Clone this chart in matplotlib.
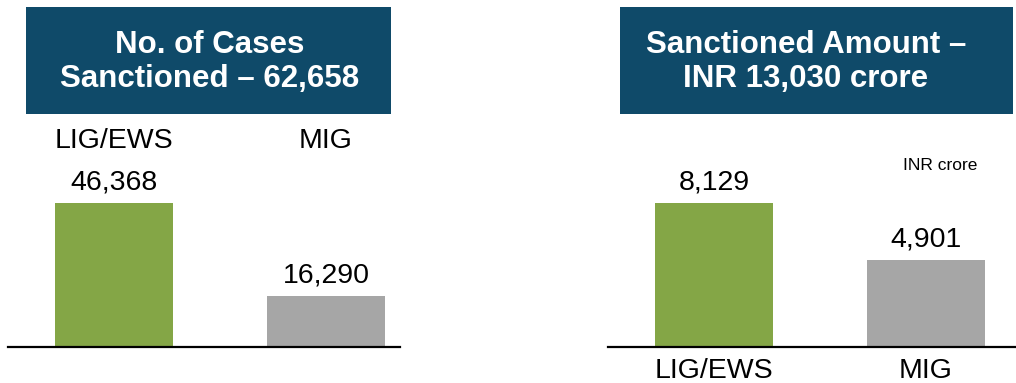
import matplotlib.pyplot as plt
import matplotlib.transforms as mtransforms
from matplotlib.patches import Rectangle

plt.rcParams["font.family"] = ["Liberation Sans", "DejaVu Sans"]

# data
categories = ["LIG/EWS", "MIG"]
cases = [46368, 16290]
amount = [8129, 4901]
cases_title = "No. of Cases\nSanctioned \u2013 62,658"
amount_title = "Sanctioned Amount \u2013\nINR 13,030 crore"
unit_label = "INR crore"

BAR_COLORS = ["#84A646", "#A6A6A6"]
HEADER_COLOR = "#0F4A69"

W, H = 1016, 383
fig = plt.figure(figsize=(W / 100, H / 100), dpi=100)


def px_box(x0, y0, x1, y1):
    # pixel box (top-left origin) -> figure fraction [left, bottom, width, height]
    return [x0 / W, (H - y1) / H, (x1 - x0) / W, (y1 - y0) / H]


def header(x0, x1, text, text_x):
    l, b, w, h = px_box(x0, 7, x1, 114)
    fig.patches.append(Rectangle((l, b), w, h, transform=fig.transFigure,
                                 facecolor=HEADER_COLOR, edgecolor="none"))
    fig.text(text_x / W, 1 - 62 / H, text, ha="center", va="center",
             color="white", fontsize=22.5, fontweight="bold", linespacing=1.2)


def bar_panel(x0, x1, values, labels_on_top):
    ax_top, ax_bot = 120, 347
    ax = fig.add_axes(px_box(x0, ax_top, x1, ax_bot))
    pos = [0, 1]
    unit = 212.0
    ax.bar(pos, values, width=118 / unit, color=BAR_COLORS)
    ax.set_xlim(-0.5, -0.5 + (x1 - x0) / unit)
    ax.set_ylim(0, max(values) * (ax_bot - ax_top) / 144.0)
    for p, v in zip(pos, values):
        ax.annotate(f"{v:,}", (p, v), xytext=(0, 15), textcoords="offset points",
                    ha="center", va="center", fontsize=20.5)
    trans = mtransforms.blended_transform_factory(ax.transData, ax.transAxes)
    label_px = 141 if labels_on_top else 371
    label_y = (ax_bot - label_px) / (ax_bot - ax_top)
    for p, lab in zip(pos, categories):
        ax.text(p, label_y, lab, transform=trans, ha="center", va="center",
                fontsize=20.5, clip_on=False)
    for s in ["top", "right", "left"]:
        ax.spines[s].set_visible(False)
    ax.spines["bottom"].set_linewidth(1.6)
    ax.set_xticks([])
    ax.set_yticks([])
    ax.patch.set_alpha(0)
    return ax


header(26, 391, cases_title, 210)
header(620, 1013, amount_title, 806)

bar_panel(8, 400, cases, labels_on_top=True)
bar_panel(608, 1016, amount, labels_on_top=False)

fig.text(940 / W, 1 - 165 / H, unit_label, ha="center", va="center", fontsize=12.5)

fig.savefig("out.png", dpi=100)
